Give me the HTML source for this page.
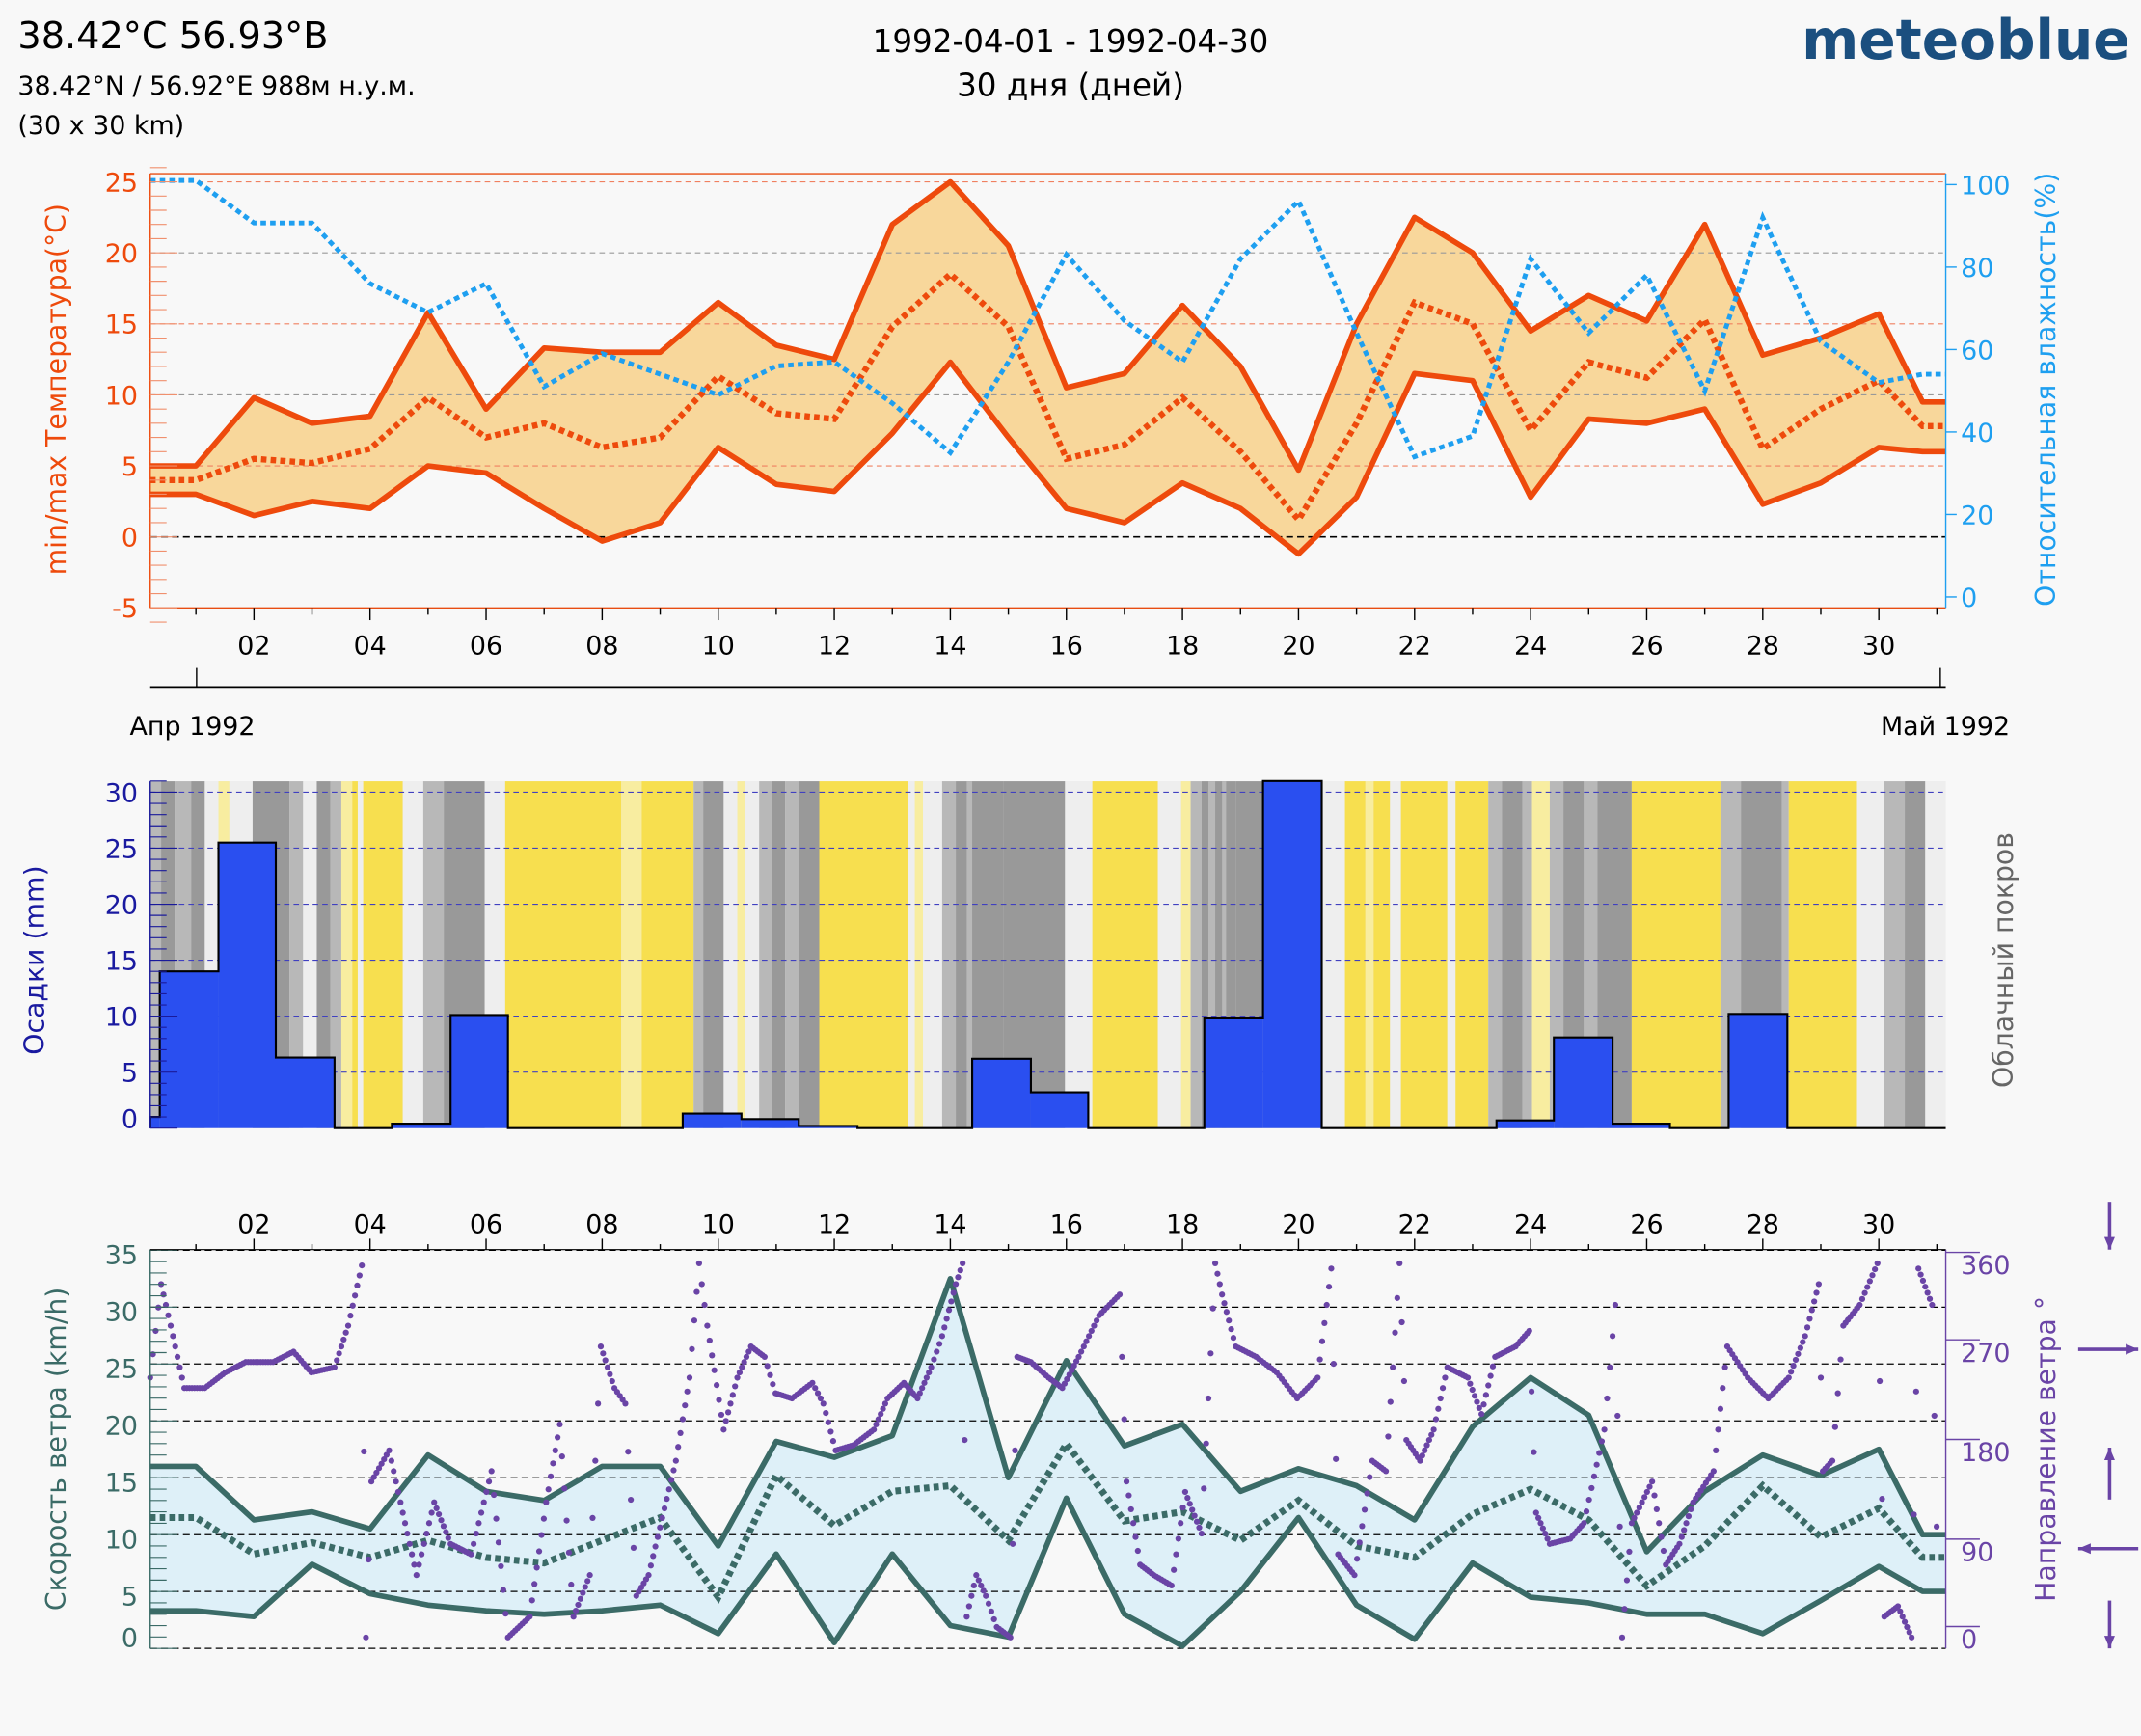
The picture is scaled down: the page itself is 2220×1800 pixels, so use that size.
<!DOCTYPE html>
<html><head><meta charset="utf-8">
<style>
html,body{margin:0;padding:0;background:#f8f8f8;}
svg{display:block;font-family:"DejaVu Sans","Liberation Sans",sans-serif;}
</style></head>
<body>
<svg id="s" width="2220" height="1800" viewBox="0 0 1568 1271" xmlns="http://www.w3.org/2000/svg">
<rect width="1568" height="1271" fill="#f8f8f8"/>
<text x="13" y="35" font-size="27" fill="#000">38.42°C 56.93°B</text>
<text x="13" y="69" font-size="19" fill="#000">38.42°N / 56.92°E   988м н.у.м.</text>
<text x="13" y="98" font-size="19" fill="#000">(30 x 30 km)</text>
<text x="784" y="38" font-size="23" text-anchor="middle">1992-04-01 - 1992-04-30</text>
<text x="784" y="70" font-size="23" text-anchor="middle">30 дня (дней)</text>
<text x="1560" y="43" font-size="40" font-weight="bold" fill="#1b4f7f" text-anchor="end">meteoblue</text>
<g id="g"></g>
</svg>
<script>
const NS="http://www.w3.org/2000/svg",G=document.getElementById('g');
function el(t,a,txt){const e=document.createElementNS(NS,t);for(const k in a)e.setAttribute(k,a[k]);if(txt!==undefined)e.textContent=txt;G.appendChild(e);return e;}
const X=d=>143.5+(d-1)*42.5;
const L=110,R=1425;
function pts(arr,yf){let p=[];p.push([L,yf(arr[0])]);arr.forEach((v,i)=>{let x=i<30?X(i+1):1408;p.push([x,yf(v)]);});p.push([R,yf(arr[arr.length-1])]);return p;}
const ps=p=>p.map(q=>q[0].toFixed(1)+','+q[1].toFixed(1)).join(' ');
const TY=t=>393-t*10.4;
const tmax=[5,9.8,8,8.5,15.8,9,13.3,13,13,16.5,13.5,12.5,22,25,20.5,10.5,11.5,16.3,12,4.7,15,22.5,20,14.5,17,15.2,22,12.8,14,15.7,9.5];
const tmin=[3,1.5,2.5,2,5,4.5,2,-0.3,1,6.3,3.7,3.2,7.3,12.3,7,2,1,3.8,2,-1.2,2.8,11.5,11,2.8,8.3,8,9,2.3,3.8,6.3,6];
const tmean=[4,5.5,5.2,6.2,9.8,7,8,6.3,7,11.3,8.7,8.3,14.8,18.5,14.8,5.5,6.5,9.8,6,1.2,8,16.5,15,7.5,12.3,11.2,15.3,6.2,9,11,7.8];
const hum=[101,90.7,90.7,76,69,76,51,59,54,49,56,57,47,35,57,83,67,57,82,96,64,34,39,82,64,78,50,92,62,52,54];
const pmax=pts(tmax,TY),pmin=pts(tmin,TY);
el('polygon',{points:ps(pmax.concat(pmin.slice().reverse())),fill:'#f8d79b'});
for(let t=5;t<=25;t+=5){el('line',{x1:L,x2:R,y1:TY(t),y2:TY(t),stroke:t%10==0?'#999':'#f08060','stroke-width':0.8,'stroke-dasharray':'4,3'});}
el('line',{x1:L,x2:R,y1:TY(0),y2:TY(0),stroke:'#000','stroke-width':1.2,'stroke-dasharray':'5,3'});
el('line',{x1:L,x2:R,y1:127,y2:127,stroke:'#e84d12','stroke-width':1});
el('line',{x1:L,x2:R,y1:445,y2:445,stroke:'#e84d12','stroke-width':1});
el('polyline',{points:ps(pmax),fill:'none',stroke:'#ee4a0c','stroke-width':4,'stroke-linejoin':'round'});
el('polyline',{points:ps(pmin),fill:'none',stroke:'#ee4a0c','stroke-width':4,'stroke-linejoin':'round'});
el('polyline',{points:ps(pts(tmean,TY)),fill:'none',stroke:'#ee4a0c','stroke-width':4.5,'stroke-dasharray':'4,3'});
const HY=h=>437-h*3.02;
el('polyline',{points:ps(pts(hum,HY)),fill:'none',stroke:'#1e9ff0','stroke-width':3.5,'stroke-dasharray':'4,3'});
el('line',{x1:L,x2:L,y1:127,y2:445,stroke:'#ee4a0c'});
for(let t=-6;t<=26;t++){el('line',{x1:L,x2:L+(t%5==0?20:12),y1:TY(t),y2:TY(t),stroke:'#f0906e','stroke-width':0.8});}
for(let t=-5;t<=25;t+=5)el('text',{x:101,y:TY(t)+7,'font-size':19,fill:'#ee4a0c','text-anchor':'end'},t);
el('line',{x1:R,x2:R,y1:127,y2:445,stroke:'#1e9ff0'});
for(let h=0;h<=100;h+=20){el('line',{x1:R,x2:R+8,y1:HY(h),y2:HY(h),stroke:'#1e9ff0'});el('text',{x:1436,y:HY(h)+7,'font-size':19,fill:'#1e9ff0'},h);}
el('text',{x:48,y:285,'font-size':20,fill:'#ee4a0c','text-anchor':'middle',transform:'rotate(-90 48 285)'},'min/max Температура(°C)');
el('text',{x:1505,y:285,'font-size':20,fill:'#1e9ff0','text-anchor':'middle',transform:'rotate(-90 1505 285)'},'Относительная влажность(%)');
for(let d=1;d<=31;d++){el('line',{x1:X(d),x2:X(d),y1:445,y2:d%2==0?454:450,stroke:'#000'});if(d%2==0)el('text',{x:X(d),y:479,'font-size':19,'text-anchor':'middle'},String(d).padStart(2,'0'));}
el('line',{x1:L,x2:R,y1:503,y2:503,stroke:'#000','stroke-width':1.2});
el('line',{x1:144,x2:144,y1:489,y2:503,stroke:'#000'});
el('line',{x1:1421,x2:1421,y1:489,y2:503,stroke:'#000'});
el('text',{x:95,y:538,'font-size':19},'Апр 1992');
el('text',{x:1472,y:538,'font-size':19,'text-anchor':'end'},'Май 1992');
const MT=572,MB=826;
el('rect',{x:L,y:MT,width:R-L,height:MB-MT,fill:'#e6e6e6'});
const Y='#f7df4f',D='#999',M='#b8b8b8',W='#eeeeee',LY='#f8eda0';
const bands=[[110,118,M],[118,128,D],[128,140,M],[140,150,D],[150,160,W],[160,168,LY],[168,185,W],[185,212,D],[212,222,M],[222,232,W],[232,242,D],[242,250,M],[250,258,LY],[258,295,Y],[262,266,W],[295,310,W],[310,325,M],[325,355,D],[355,370,W],[370,455,Y],[455,470,LY],[470,508,Y],[508,515,M],[515,530,D],[530,540,W],[540,546,LY],[546,556,W],[556,565,M],[565,575,D],[575,585,M],[585,600,D],[600,665,Y],[665,670,W],[670,676,LY],[676,690,W],[690,700,M],[700,735,D],[708,712,M],[735,780,D],[780,800,W],[800,848,Y],[848,865,W],[865,872,LY],[872,880,M],[880,905,D],[885,890,M],[895,898,M],[905,925,D],[925,968,M],[968,985,W],[985,1000,Y],[1000,1006,LY],[1006,1018,Y],[1018,1026,W],[1026,1060,Y],[1060,1066,W],[1066,1090,Y],[1090,1100,M],[1100,1115,D],[1115,1122,M],[1122,1135,LY],[1135,1145,M],[1145,1160,D],[1160,1170,M],[1170,1195,D],[1195,1260,Y],[1260,1275,M],[1275,1305,D],[1305,1310,M],[1310,1360,Y],[1360,1380,W],[1380,1395,M],[1395,1410,D],[1410,1425,W]];
bands.forEach(b=>el('rect',{x:b[0],y:MT,width:b[1]-b[0],height:MB-MT,fill:b[2]}));
const PY=m=>MB-m*8.2;
for(let m=5;m<=30;m+=5)el('line',{x1:L,x2:R,y1:PY(m),y2:PY(m),stroke:'#4040c0','stroke-width':0.8,'stroke-dasharray':'4,3'});
const bars=[[110,117,1],[117,160,14],[160,202,25.5],[202,245,6.3],[245,287,0],[287,330,0.4],[330,372,10.1],[372,500,0],[500,543,1.3],[543,585,0.8],[585,628,0.2],[628,712,0],[712,755,6.2],[755,797,3.2],[797,882,0],[882,925,9.8],[925,968,31],[968,1096,0],[1096,1138,0.7],[1138,1181,8.1],[1181,1223,0.4],[1223,1266,0],[1266,1309,10.2],[1309,1425,0]];
let bp=[[L,MB]];bars.forEach(b=>{if(b[2]>0){el('rect',{x:b[0],y:PY(b[2]),width:b[1]-b[0],height:b[2]*8.2,fill:'#2a4ff0'});}bp.push([b[0],PY(b[2])],[b[1],PY(b[2])]);});
bp.push([R,MB]);
el('polyline',{points:ps(bp),fill:'none',stroke:'#000','stroke-width':1.5});
el('line',{x1:L,x2:L,y1:MT,y2:MB,stroke:'#1a1a9a'});
for(let m=0;m<=31;m++)el('line',{x1:L,x2:L+(m%5==0?20:12),y1:PY(m),y2:PY(m),stroke:'#1a1a9a','stroke-width':0.8});
for(let m=0;m<=30;m+=5)el('text',{x:101,y:PY(m)+(m==0?0:7),'font-size':19,fill:'#1a1aa0','text-anchor':'end'},m);
el('text',{x:32,y:703,'font-size':20,fill:'#1a1aa0','text-anchor':'middle',transform:'rotate(-90 32 703)'},'Осадки (mm)');
el('text',{x:1474,y:703,'font-size':20,fill:'#666','text-anchor':'middle',transform:'rotate(-90 1474 703)'},'Облачный покров');
const BT=915,BB=1207;
const WY=v=>BB-v*8.33;
const wmax=[16,11.3,12,10.5,17,13.8,13,16,16,9,18.2,16.8,18.7,32.5,15,25.3,17.8,19.7,13.8,15.8,14.3,11.3,19.5,23.8,20.5,8.5,13.8,17,15.2,17.5,10];
const wmin=[3.3,2.8,7.4,4.8,3.8,3.3,3,3.3,3.8,1.3,8.3,0.5,8.3,2,1,13.2,3,0.2,5,11.5,3.8,0.8,7.5,4.5,4,3,3,1.3,4.2,7.2,5];
const wmean=[11.5,8.3,9.3,8,9.5,8,7.5,9.5,11.5,4.5,15.2,10.8,13.8,14.3,9.5,18,11.2,12,9.5,13,9,8,11.8,14,11.3,5.5,9,14.3,9.8,12.3,8];
const qmax=pts(wmax,WY),qmin=pts(wmin,WY);
el('polygon',{points:ps(qmax.concat(qmin.slice().reverse())),fill:'#def0f8'});
for(let v=0;v<=35;v+=5)el('line',{x1:L,x2:R,y1:WY(v),y2:WY(v),stroke:'#000','stroke-width':0.9,'stroke-dasharray':'5,3'});
el('polyline',{points:ps(qmax),fill:'none',stroke:'#3b6b67','stroke-width':4,'stroke-linejoin':'round'});
el('polyline',{points:ps(qmin),fill:'none',stroke:'#3b6b67','stroke-width':4,'stroke-linejoin':'round'});
el('polyline',{points:ps(pts(wmean,WY)),fill:'none',stroke:'#3b6b67','stroke-width':5,'stroke-dasharray':'4,3'});
const DY=g=>1199-g*0.761;
const anc=[[110,250],[118,340],[125,300],[135,240],[150,240],[165,255],[180,265],[200,265],[215,275],[228,255],[245,260],[255,300],[265,358],[268,0],[272,150],[285,180],[295,120],[305,60],[318,130],[330,90],[345,80],[360,160],[372,0],[388,20],[400,130],[410,205],[420,20],[432,60],[440,280],[450,240],[458,225],[466,40],[475,60],[485,115],[495,170],[505,250],[512,360],[518,300],[530,200],[540,250],[550,280],[560,270],[568,235],[580,230],[595,245],[603,225],[612,180],[625,185],[640,200],[650,230],[662,245],[672,230],[682,260],[690,290],[700,340],[705,360],[708,20],[715,60],[722,40],[730,10],[740,0],[745,270],[755,265],[768,250],[778,240],[790,270],[805,310],[820,330],[825,150],[835,70],[845,60],[858,50],[868,140],[880,100],[890,360],[895,330],[905,280],[920,270],[935,255],[950,230],[965,250],[975,355],[980,80],[992,60],[1005,170],[1015,160],[1025,360],[1030,190],[1040,170],[1050,200],[1060,260],[1075,250],[1085,215],[1095,270],[1110,280],[1120,295],[1125,120],[1135,90],[1150,95],[1160,110],[1175,200],[1183,320],[1188,0],[1195,110],[1210,150],[1220,70],[1230,90],[1240,130],[1255,160],[1265,280],[1280,250],[1295,230],[1310,250],[1322,290],[1332,340],[1335,160],[1342,170],[1350,300],[1362,320],[1375,360],[1380,20],[1390,30],[1400,0],[1405,355],[1415,320],[1420,0]];
for(let i=0;i<anc.length-1;i++){const[a,b]=[anc[i],anc[i+1]];let n=Math.max(1,Math.round((b[0]-a[0])/1.8));for(let k=0;k<n;k++){const x=a[0]+(b[0]-a[0])*k/n,g=a[1]+(b[1]-a[1])*k/n;el('circle',{cx:x,cy:DY(g),r:2.2,fill:'#6a44a6'});}}
el('line',{x1:L,x2:L,y1:BT,y2:BB,stroke:'#3b6b67'});
for(let v=0;v<=35;v++)el('line',{x1:L,x2:L+(v%5==0?20:12),y1:WY(v),y2:WY(v),stroke:'#3b6b67','stroke-width':0.8});
for(let v=0;v<=35;v+=5)el('text',{x:101,y:WY(v)+(v==0?-1:10),'font-size':19,fill:'#3b6b67','text-anchor':'end'},v);
el('text',{x:48,y:1061,'font-size':20,fill:'#3b6b67','text-anchor':'middle',transform:'rotate(-90 48 1061)'},'Скорость ветра (km/h)');
el('line',{x1:R,x2:R,y1:BT,y2:BB,stroke:'#6a44a6'});
[[0,1199],[90,1135],[180,1062],[270,989],[360,925]].forEach(a=>{el('line',{x1:R,x2:R+25,y1:a[1]-8,y2:a[1]-8,stroke:'#6a44a6'});el('text',{x:1436,y:a[1]+8,'font-size':19,fill:'#6a44a6'},a[0]);});
el('text',{x:1505,y:1061,'font-size':20,fill:'#6a44a6','text-anchor':'middle',transform:'rotate(-90 1505 1061)'},'Направление ветра °');
for(let d=1;d<=31;d++){el('line',{x1:X(d),x2:X(d),y1:BT,y2:BT-(d%2==0?8:4),stroke:'#000'});if(d%2==0)el('text',{x:X(d),y:903,'font-size':19,'text-anchor':'middle'},String(d).padStart(2,'0'));}
el('line',{x1:L,x2:R,y1:BT,y2:BT,stroke:'#000','stroke-width':0.8});
const P='#6a44a6';
function arrow(x1,y1,x2,y2){el('line',{x1,y1,x2,y2,stroke:P,'stroke-width':2.5});const a=Math.atan2(y2-y1,x2-x1),s=10;el('polygon',{points:`${x2},${y2} ${x2-s*Math.cos(a-0.4)},${y2-s*Math.sin(a-0.4)} ${x2-s*Math.cos(a+0.4)},${y2-s*Math.sin(a+0.4)}`,fill:P});}
arrow(1545,880,1545,915);arrow(1522,988,1566,988);arrow(1545,1098,1545,1060);arrow(1566,1134,1522,1134);arrow(1545,1172,1545,1207);
</script>
</body></html>
